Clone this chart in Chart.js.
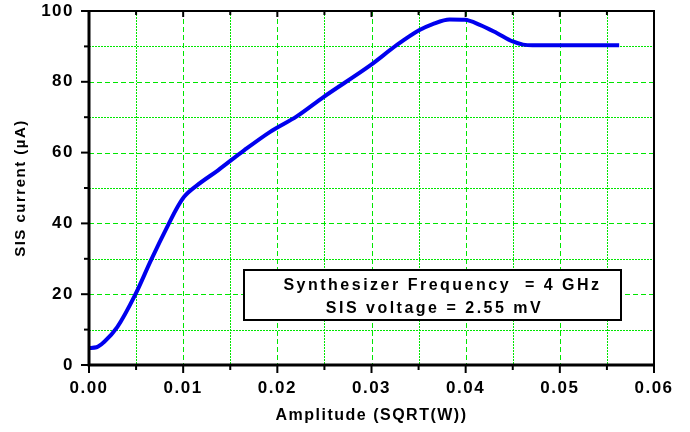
<!DOCTYPE html>
<html>
<head>
<meta charset="utf-8">
<script src="https://cdn.jsdelivr.net/npm/chart.js@4.4.0/dist/chart.umd.min.js"></script>
<style>
  html, body { margin: 0; padding: 0; background: #fff; }
  canvas { display: block; }
</style>
</head>
<body>
<canvas id="chart" width="690" height="432"></canvas>
<script>
// valores
const amplitude = [0, 0.0008, 0.0016, 0.003, 0.0049, 0.0066, 0.0084, 0.0094, 0.0101, 0.0115, 0.0137,
  0.0165, 0.0192, 0.0221, 0.0249, 0.0299, 0.0327, 0.0351, 0.0365, 0.0383, 0.0399, 0.0415,
  0.0433, 0.045, 0.0461, 0.0471, 0.05, 0.0563];
const sisCurrent = [4.8, 5.0, 6.5, 10.7, 19.8, 29.7, 39.5, 44.6, 47.5, 50.8, 55,
  60.7, 65.8, 70.3, 75.7, 84.7, 90.4, 94.6, 96.3, 97.6, 97.5, 96.1,
  93.8, 91.4, 90.5, 90.3, 90.3, 90.3];
const xTicks = [0, 0.06, 0.005];   // min, max, passo
const yTicks = [0, 100, 10];
const boxLines = ['Synthesizer Frequency  = 4 GHz', 'SIS voltage = 2.55 mV'];

const GREEN = '#00e600';
const FONT = 'Liberation Sans, Arial, sans-serif';

function isMajorX(v) { return Math.abs(v * 100 - Math.round(v * 100)) < 1e-6; }
function isMajorY(v) { return Math.round(v) % 20 === 0; }

function setSpacing(chart) { chart.ctx.letterSpacing = '1.5px'; }

// linha tracejada feita com retângulos (fica nítida)
function dashed(ctx, horiz, pos, from, to, on, off) {
    for (let p = from; p < to; p += on + off) {
        const len = Math.min(on, to - p);
        if (horiz) ctx.fillRect(p, pos, len, 1);
        else ctx.fillRect(pos, p, 1, len);
    }
}

// grade verde, moldura e marcas
const framePlugin = {
    id: 'frame',
    afterInit: setSpacing,
    beforeUpdate: setSpacing,
    beforeDraw: setSpacing,
    beforeDatasetsDraw(chart) {
        const { ctx, chartArea: a, scales: { x, y } } = chart;
        ctx.save();
        ctx.fillStyle = GREEN;
        x.ticks.forEach(t => {
            if (t.value <= xTicks[0] || t.value >= xTicks[1]) return;
            const px = Math.round(x.getPixelForValue(t.value));
            if (isMajorX(t.value)) dashed(ctx, false, px, a.top, a.bottom, 5, 3);
            else dashed(ctx, false, px, a.top, a.bottom, 2, 1);
        });
        y.ticks.forEach(t => {
            if (t.value <= yTicks[0] || t.value >= yTicks[1]) return;
            const py = Math.round(y.getPixelForValue(t.value));
            if (isMajorY(t.value)) dashed(ctx, true, py, a.left, a.right, 5, 3);
            else dashed(ctx, true, py, a.left, a.right, 2, 1);
        });
        ctx.restore();
    },
    afterDatasetsDraw(chart) {
        const { ctx, chartArea: a, scales: { x, y } } = chart;
        ctx.save();
        ctx.strokeStyle = '#000';
        ctx.setLineDash([]);
        // marcas
        ctx.lineWidth = 2;
        x.ticks.forEach(t => {
            const px = x.getPixelForValue(t.value);
            const major = isMajorX(t.value);
            ctx.beginPath(); ctx.moveTo(px, a.bottom); ctx.lineTo(px, a.bottom + (major ? 8 : 5)); ctx.stroke();
            ctx.beginPath(); ctx.moveTo(px, a.top); ctx.lineTo(px, a.top + (major ? 6 : 4)); ctx.stroke();
        });
        y.ticks.forEach(t => {
            const py = y.getPixelForValue(t.value);
            const major = isMajorY(t.value);
            ctx.beginPath(); ctx.moveTo(a.left, py); ctx.lineTo(a.left - (major ? 8 : 5), py); ctx.stroke();
        });
        // moldura
        ctx.lineWidth = 2;
        ctx.beginPath(); ctx.moveTo(a.left, a.top); ctx.lineTo(a.right, a.top); ctx.lineTo(a.right, a.bottom); ctx.stroke();
        ctx.lineWidth = 3;
        ctx.beginPath(); ctx.moveTo(a.left, a.top - 1); ctx.lineTo(a.left, a.bottom); ctx.lineTo(a.right + 1, a.bottom); ctx.stroke();

        // caixa de texto
        const bx = 244, by = 270, bw = 377, bh = 50;
        ctx.fillStyle = '#fff';
        ctx.fillRect(bx, by, bw, bh);
        ctx.lineWidth = 2;
        ctx.strokeRect(bx, by, bw, bh);
        ctx.fillStyle = '#000';
        ctx.font = 'bold 16px ' + FONT;
        ctx.letterSpacing = '2.5px';
        ctx.textAlign = 'center';
        ctx.textBaseline = 'middle';
        ctx.fillText(boxLines[0], bx + bw / 2 + 10, by + 16);
        ctx.fillText(boxLines[1], bx + bw / 2 + 2, by + 39);
        ctx.restore();
    }
};

new Chart(document.getElementById('chart'), {
    type: 'scatter',
    data: {
        datasets: [{
            data: amplitude.map((v, i) => ({ x: v, y: sisCurrent[i] })),
            showLine: true,
            borderColor: '#0000ee',
            borderWidth: 4,
            pointRadius: 0,
            cubicInterpolationMode: 'monotone',
            fill: false
        }]
    },
    options: {
        responsive: false,
        animation: false,
        devicePixelRatio: 1,
        layout: { padding: { left: 0, top: 11, right: 36, bottom: 0 } },
        plugins: { legend: { display: false }, tooltip: { enabled: false } },
        scales: {
            x: {
                type: 'linear',
                min: xTicks[0], max: xTicks[1],
                grid: { display: false },
                border: { display: false },
                afterFit(scale) {
                    scale.height = 67;
                    scale.paddingLeft = 0;
                    scale.paddingRight = 0;
                },
                ticks: {
                    stepSize: xTicks[2],
                    autoSkip: false,
                    maxRotation: 0,
                    padding: 5,
                    color: '#000',
                    font: { family: FONT, size: 17, weight: 'bold' },
                    callback: v => isMajorX(v) ? v.toFixed(2) : ''
                },
                title: {
                    display: true,
                    text: 'Amplitude (SQRT(W))',
                    color: '#000',
                    font: { family: FONT, size: 16, weight: 'bold' },
                    padding: { top: 0, bottom: 7 }
                }
            },
            y: {
                min: yTicks[0], max: yTicks[1],
                grid: { display: false },
                border: { display: false },
                afterFit(scale) {
                    scale.width = 89;
                    scale.paddingTop = 0;
                    scale.paddingBottom = 0;
                },
                ticks: {
                    stepSize: yTicks[2],
                    autoSkip: false,
                    padding: 7,
                    color: '#000',
                    font: { family: FONT, size: 17, weight: 'bold' },
                    callback: v => isMajorY(v) ? String(v) : ''
                },
                title: {
                    display: true,
                    text: 'SIS current (\u00b5A)',
                    color: '#000',
                    font: { family: FONT, size: 15, weight: 'bold' },
                    padding: { top: 12, bottom: 0 }
                }
            }
        }
    },
    plugins: [framePlugin]
});
</script>
</body>
</html>
